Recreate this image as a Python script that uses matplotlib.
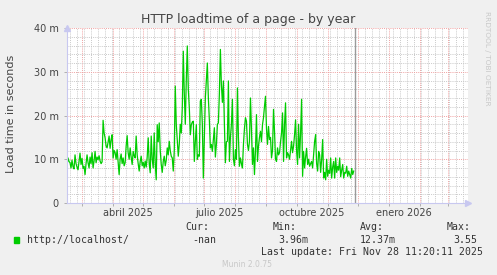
import matplotlib
matplotlib.use("Agg")
import matplotlib.pyplot as plt
import matplotlib.dates as mdates
from matplotlib.patches import Rectangle
import pandas as pd

# daily average load time (milliseconds)
load_ms = [
    8.5, 10.3, 9.5, 9.2, 8.0, 9.8, 8.3, 7.8, 11.0, 9.0, 8.2, 7.6, 9.5, 11.4,
    8.8, 10.2, 7.9, 8.4, 6.5, 9.0, 11.0, 9.2, 8.0, 10.5, 9.0, 11.5, 8.0, 9.6,
    11.8, 9.2, 10.5, 9.9, 10.8, 9.6, 9.0, 9.4, 18.9, 16.0, 14.9, 13.0, 12.6, 14.0,
    15.3, 12.5, 14.5, 15.6, 10.3, 12.0, 11.5, 10.0, 12.2, 9.5, 6.5, 10.0, 11.2, 9.0,
    10.3, 8.5, 9.2, 13.0, 15.4, 11.5, 10.0, 12.6, 10.5, 8.8, 11.8, 10.8, 10.3, 15.3,
    11.0, 9.0, 7.3, 9.5, 10.7, 8.5, 9.3, 8.0, 9.6, 8.2, 10.5, 14.9, 9.0, 6.9,
    15.3, 10.0, 8.0, 16.0, 9.0, 5.3, 17.9, 14.0, 18.3, 12.0, 8.8, 7.0, 9.5, 10.7,
    8.5, 9.8, 12.6, 11.0, 14.1, 12.0, 10.7, 10.3, 7.3, 12.0, 26.7, 18.0, 14.5, 10.7,
    13.5, 18.0, 16.0, 21.8, 34.7, 25.0, 18.0, 28.2, 35.9, 26.0, 21.8, 15.6, 17.9, 18.5,
    18.7, 9.5, 14.0, 17.9, 10.0, 11.0, 10.7, 23.3, 23.7, 18.0, 5.7, 15.0, 24.0, 28.0,
    32.0, 24.0, 19.0, 12.6, 13.4, 11.8, 14.5, 17.2, 10.5, 13.4, 18.0, 18.3, 25.0, 35.1,
    27.0, 23.0, 27.9, 18.0, 9.2, 14.0, 14.1, 27.9, 9.5, 15.0, 18.0, 23.7, 10.0, 8.5,
    12.2, 10.0, 26.3, 15.0, 8.4, 10.3, 9.0, 8.0, 13.4, 17.0, 19.5, 18.7, 13.4, 12.0,
    14.1, 24.0, 17.0, 8.8, 12.6, 6.5, 12.0, 20.2, 9.5, 13.0, 15.0, 16.4, 14.0, 17.9,
    19.5, 22.1, 24.4, 17.0, 13.4, 17.5, 14.5, 15.0, 10.3, 12.0, 21.4, 16.4, 10.0, 9.5,
    12.6, 11.0, 11.5, 14.0, 16.0, 20.6, 9.5, 18.0, 22.9, 10.3, 11.5, 11.0, 10.0, 12.0,
    14.1, 11.5, 13.0, 15.6, 19.0, 12.0, 8.8, 18.0, 10.3, 16.0, 23.7, 6.1, 11.8, 8.0,
    10.5, 12.5, 8.8, 10.0, 8.4, 9.0, 9.5, 8.0, 11.0, 14.1, 15.6, 9.0, 7.3, 11.8,
    11.0, 7.0, 10.0, 14.5, 5.7, 7.0, 5.3, 10.0, 6.1, 7.5, 6.8, 10.3, 5.7, 8.2,
    9.5, 5.7, 10.3, 7.0, 8.4, 7.5, 10.3, 6.0, 7.5, 8.8, 5.7, 7.0, 6.8, 8.4,
    6.1, 7.3, 6.5, 5.7, 7.9, 6.5, 7.3,
]
first_day = "2025-02-14"
view_start = pd.Timestamp("2025-02-14")
view_end = pd.Timestamp("2026-03-21")
last_update = pd.Timestamp("2025-11-28 11:20:11")

y_ticks = [0, 10, 20, 30, 40]
y_labels = ["0", "10 m", "20 m", "30 m", "40 m"]
month_labels = ["abril 2025", "julio 2025", "octubre 2025", "enero 2026"]
month_label_dates = ["2025-04-16", "2025-07-16", "2025-10-16", "2026-01-16"]

legend_name = "http://localhost/"
stat_heads = ["Cur:", "Min:", "Avg:", "Max:"]
stat_values = ["-nan", "3.96m", "12.37m", "3.55"]

dates = pd.date_range(first_day, periods=len(load_ms), freq="D")

W, H = 497, 275
fig = plt.figure(figsize=(W / 100, H / 100), dpi=100, facecolor="#F0F0F0")
ax = fig.add_axes([67 / W, 1 - 203 / H, (468 - 67) / W, 175 / H])
ax.set_facecolor("white")

def fx(x):
    return x / W

def fy(y):
    return 1 - y / H

# grid
dots = (0, (1, 1.2))
ax.set_ylim(0, 40)
ax.set_xlim(view_start, view_end)
ax.set_yticks(y_ticks)
ax.set_yticklabels(y_labels)
ax.set_yticks(range(0, 41, 2), minor=True)
ax.xaxis.set_major_locator(mdates.MonthLocator())
ax.xaxis.set_minor_locator(mdates.WeekdayLocator(byweekday=mdates.MO))
ax.xaxis.set_major_formatter(plt.NullFormatter())
ax.grid(which="minor", color="#C8C8C8", linestyle=dots, linewidth=0.7)
ax.grid(which="major", color="#F0A0A0", linestyle=dots, linewidth=0.7)
ax.set_axisbelow(True)

ax.tick_params(axis="both", which="both", colors="#B0B0B0", labelcolor="#444444",
               labelsize=7, length=2, width=0.7)
ax.tick_params(axis="x", which="minor", length=0)
ax.tick_params(axis="y", which="minor", length=0)
ax.tick_params(axis="y", pad=4)

for s in ["top", "right"]:
    ax.spines[s].set_visible(False)
for s in ["left", "bottom"]:
    ax.spines[s].set_color("#C8C8F0")
    ax.spines[s].set_linewidth(0.8)
ax.plot(1.0, 0, ">", color="#C8C8F0", markersize=4, transform=ax.transAxes, clip_on=False)
ax.plot(0, 1.0, "^", color="#C8C8F0", markersize=4, transform=ax.transAxes, clip_on=False)

for d, lab in zip(month_label_dates, month_labels):
    ax.text(pd.Timestamp(d), -0.03, lab, transform=ax.get_xaxis_transform(),
            ha="center", va="top", fontsize=7, color="#444444")

# data
ax.plot(dates, load_ms, color="#00CC00", linewidth=0.9)
ax.axvline(last_update, color="#9A9A9A", linewidth=1.0)

# texts
fig.text(fx(248.5), fy(19.5), "HTTP loadtime of a page - by year",
         ha="center", va="center", fontsize=9, color="#444444")
fig.text(fx(11), fy(114), "Load time in seconds", rotation=90,
         ha="center", va="center", fontsize=8, color="#444444")
fig.text(fx(487), fy(58), "RRDTOOL / TOBI OETIKER", rotation=270,
         ha="center", va="center", fontsize=5.3, color="#C8C8C8")

mono = dict(family="DejaVu Sans Mono", fontsize=7.1, color="#333333", va="center")
fig.patches.append(Rectangle((fx(14), fy(242.7)), 5.3 / W, 5.4 / H,
                             transform=fig.transFigure, color="#00CC00"))
fig.text(fx(26.5), fy(240), legend_name, ha="left", **mono)
head_x = [185.7, 272.7, 360, 446.7]
val_x = [192.3, 278.3, 360, 453.3]
for hx, h in zip(head_x, stat_heads):
    fig.text(fx(hx), fy(227.5), h, ha="left", **mono)
for vx, v in zip(val_x, stat_values):
    fig.text(fx(vx), fy(240), v, ha="left", **mono)
fig.text(fx(261), fy(252), "Last update: " + last_update.strftime("%a %b %d %H:%M:%S %Y"),
         ha="left", **mono)
fig.text(fx(247.5), fy(264.5), "Munin 2.0.75", ha="center", va="center",
         fontsize=5.5, color="#C8C8C8")

fig.savefig("out.png", dpi=100, facecolor=fig.get_facecolor())
